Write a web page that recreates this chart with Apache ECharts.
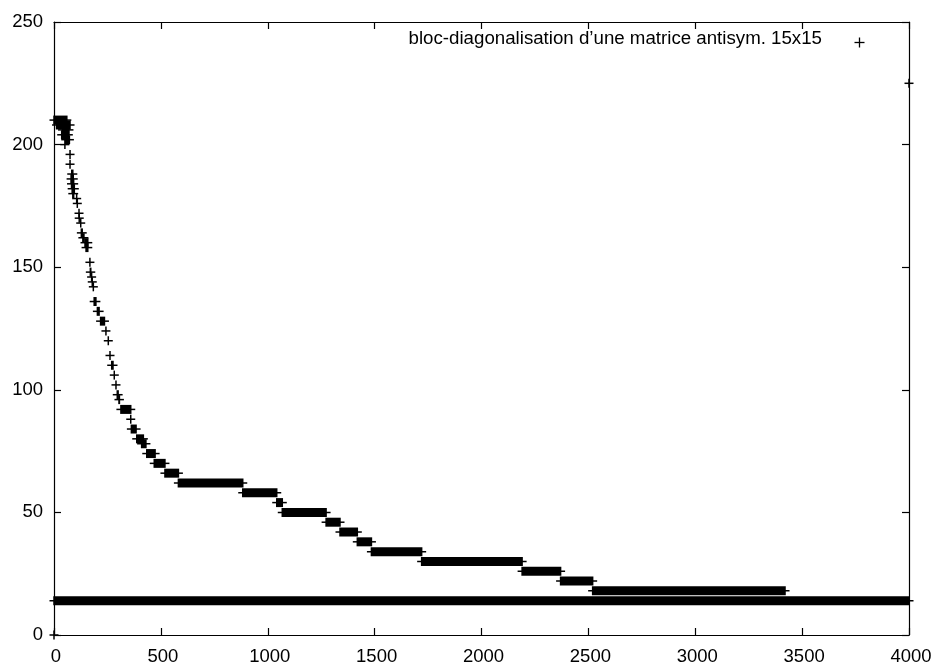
<!DOCTYPE html>
<html>
<head>
<meta charset="utf-8">
<script src="https://cdn.jsdelivr.net/npm/echarts@6/dist/echarts.min.js"></script>
<style>
html,body{margin:0;padding:0;background:#fff;}
#chart{width:938px;height:666px;}
</style>
</head>
<body>
<div id="chart"></div>
<script>
// Each run of "+" points: start x, end x, value (a single point has start == end)
var segStart = [0, 12, 40, 36, 55, 51, 75, 75, 83, 80, 82, 85, 88, 106, 109, 117, 118, 125, 128, 135, 145, 150, 168, 170, 176, 179, 184, 188, 203, 218, 243, 254, 262, 270, 282, 290, 296, 304, 313, 359, 362, 387, 410, 434, 469, 519, 582, 883, 1042, 1068, 1273, 1338, 1419, 1485, 1720, 2190, 2370, 2520, 0, 0, 4000];
var segEnd   = [60, 75, 70, 67, 72, 51, 75, 75, 88, 90, 92, 95, 92, 106, 109, 117, 118, 125, 132, 140, 158, 158, 168, 172, 176, 179, 184, 196, 211, 236, 243, 254, 262, 276, 282, 290, 300, 306, 359, 359, 384, 418, 430, 473, 519, 582, 883, 1042, 1068, 1273, 1338, 1419, 1485, 1720, 2190, 2370, 2520, 3420, 4000, 0, 4000];
var segValue = [210, 208, 206, 204, 202, 200, 196, 192, 188, 186, 184, 182, 180, 178, 176, 172, 170, 168, 164, 162, 160, 158, 152, 148, 146, 144, 142, 136, 132, 128, 124, 120, 114, 110, 106, 102, 98, 96, 92, 88, 84, 80, 78, 74, 70, 66, 62, 58, 54, 50, 46, 42, 38, 34, 30, 26, 22, 18, 14, 0, 225];

var xTicks = [0, 500, 1000, 1500, 2000, 2500, 3000, 3500, 4000];
var yTicks = [0, 50, 100, 150, 200, 250];
var legendText = 'bloc-diagonalisation d\u2019une matrice antisym. 15x15';

var seriesData = segStart.map(function (s, i) { return [s, segEnd[i], segValue[i]]; });

var FONT = '"Liberation Sans", Arial, Helvetica, sans-serif';
var chart = echarts.init(document.getElementById('chart'), null, {renderer: 'canvas'});

function axisCommon() {
  return {
    axisLine: {show: true, onZero: false, lineStyle: {color: '#000', width: 1.2}},
    axisTick: {show: true, inside: true, length: 7, lineStyle: {color: '#000', width: 1.2}},
    splitLine: {show: false}
  };
}
function plain(v) { return String(v); }

var xBottom = Object.assign(axisCommon(), {
  type: 'value', position: 'bottom', min: xTicks[0], max: xTicks[xTicks.length - 1], interval: xTicks[1] - xTicks[0],
  axisLabel: {show: true, color: '#000', fontSize: 18.5, fontFamily: FONT, margin: 12, padding: [0, 0, 0, 4], formatter: plain}
});
var xTop = Object.assign(axisCommon(), {
  type: 'value', position: 'top', min: xTicks[0], max: xTicks[xTicks.length - 1], interval: xTicks[1] - xTicks[0],
  axisLabel: {show: false}
});
var yLeft = Object.assign(axisCommon(), {
  type: 'value', position: 'left', min: yTicks[0], max: yTicks[yTicks.length - 1], interval: yTicks[1] - yTicks[0],
  axisLabel: {show: true, color: '#000', fontSize: 18.5, fontFamily: FONT, margin: 11, formatter: plain}
});
var yRight = Object.assign(axisCommon(), {
  type: 'value', position: 'right', min: yTicks[0], max: yTicks[yTicks.length - 1], interval: yTicks[1] - yTicks[0],
  axisLabel: {show: false}
});

var option = {
  animation: false,
  backgroundColor: '#fff',
  grid: {left: 54, right: 29, top: 22, bottom: 31, containLabel: false},
  xAxis: [xBottom, xTop],
  yAxis: [yLeft, yRight],
  graphic: [
    {type: 'text', right: 938 - 822, top: 29, style: {text: legendText, fill: '#000', font: '18.7px ' + FONT}, z: 10},
    {type: 'group', left: 852, top: 35, children: [
      {type: 'line', shape: {x1: 0, y1: 5, x2: 10, y2: 5}, style: {stroke: '#000', lineWidth: 1.3}},
      {type: 'line', shape: {x1: 5, y1: 0, x2: 5, y2: 10}, style: {stroke: '#000', lineWidth: 1.3}}
    ], z: 10}
  ],
  series: [{
    type: 'custom',
    name: legendText,
    xAxisIndex: 0,
    yAxisIndex: 0,
    clip: false,
    data: seriesData,
    encode: {x: [0, 1], y: 2},
    renderItem: function (params, api) {
      var xs = api.value(0), xe = api.value(1), y = api.value(2);
      var p1 = api.coord([xs, y]);
      var p2 = api.coord([xe, y]);
      var h = 9, a = 4.5, lw = 1.5;
      var x1 = p1[0], x2 = p2[0], yc = p1[1];
      return {
        type: 'group',
        children: [
          {type: 'rect', shape: {x: x1 - lw / 2, y: yc - h / 2, width: x2 - x1 + lw, height: h}, style: {fill: '#000'}},
          {type: 'rect', shape: {x: x1 - a, y: yc - lw / 2, width: x2 - x1 + 2 * a, height: lw}, style: {fill: '#000'}}
        ]
      };
    }
  }]
};
chart.setOption(option);
</script>
</body>
</html>
